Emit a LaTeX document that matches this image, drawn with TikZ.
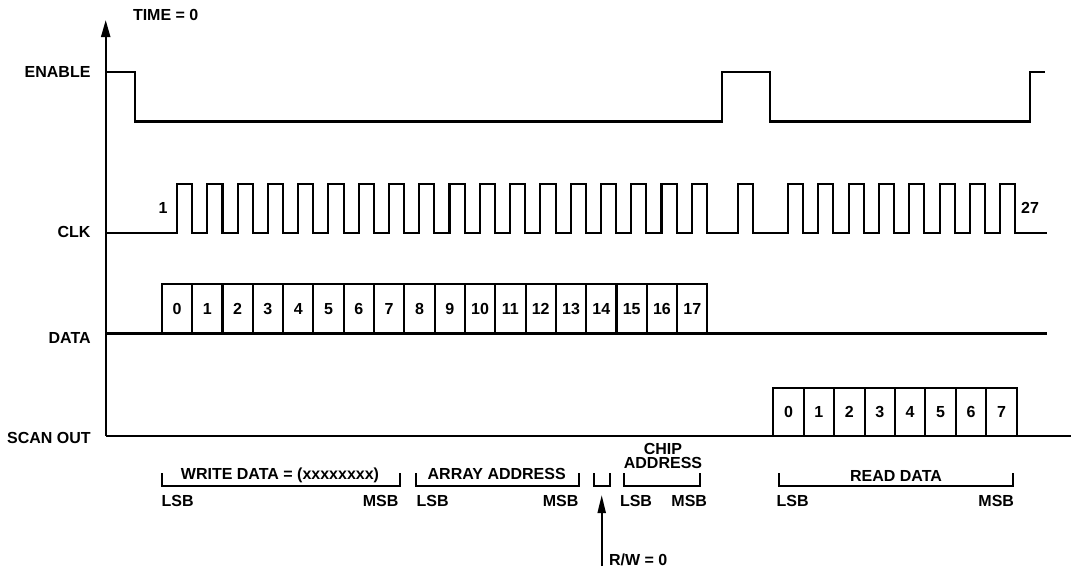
\documentclass[tikz,border=0pt]{standalone}
\usepackage{fontspec}
\setmainfont{Liberation Sans}
\usetikzlibrary{arrows.meta,positioning}

\tikzset{
  sig/.style={line width=2.1pt},
  lbl/.style={inner sep=0pt, outer sep=0pt, text height=11.4pt, text depth=0pt},
  cell/.style={draw, sig, lbl, minimum width=30.3pt, minimum height=50pt},
  scell/.style={cell, minimum width=30.4pt, minimum height=48pt},
  tip/.style={-{Triangle[length=17pt,width=9pt]}},
}

\begin{document}
\begin{tikzpicture}[x=1pt, y=-1pt, font=\fontsize{16}{18}\selectfont\bfseries]
  \useasboundingbox (0,0) rectangle (1073,571);

  % time axis
  \coordinate (top) at (105.7,20);
  \coordinate (org) at (105.7,435.7);
  \draw[sig, tip] (org) -- (top);
  \node[lbl, anchor=west] (time) at (133,14.5) {TIME = 0};

  % signal names
  \node[lbl, anchor=east] (en) at (90.5,71.7) {ENABLE};
  \node[lbl, anchor=east] (clk) at (90.5,232) {CLK};
  \node[lbl, anchor=east] (data) at (90.7,337.5) {DATA};
  \node[lbl, anchor=east] (scan) at (90.7,437.5) {SCAN OUT};

  % enable
  \draw[sig] (105.7,72) -- (135,72) -- (135,121.5) -- (722,121.5) -- (722,72)
    -- (770,72) -- (770,121.5) -- (1030,121.5) -- (1030,72) -- (1045,72);

  % clock, 27 pulses
  \draw[sig] (105.7,233)
    \foreach \n in {0,...,17}{ -- ({177+30.28*\n},233) -- ++(0,-49) -- ++(15.2,0) -- ++(0,49) }
    -- (738.3,233) -- ++(0,-49) -- ++(14.6,0) -- ++(0,49)
    \foreach \n in {0,...,7}{ -- ({787.9+30.33*\n},233) -- ++(0,-49) -- ++(15,0) -- ++(0,49) }
    -- (1047,233);
  \node[lbl] (c1) at (163,208) {1};
  \node[lbl] (c27) at (1030,207.7) {27};

  % data line and cells
  \draw[sig] (105.7,333.5) -- (1047,333.5);
  \foreach \i in {0,...,17}
    \node[cell] (d\i) at ({177+30.31*\i},309) {\i};

  % scan out line and cells
  \draw[sig] (org) -- (1071,435.7);
  \foreach \i in {0,...,7}
    \node[scell] (s\i) at ({788.5+30.42*\i},411.7) {\i};

  % brackets
  \draw[sig] (162.3,473) |- (400,486) -- (400,473);
  \draw[sig] (415.7,473) |- (579,486) -- (579,473);
  \draw[sig] (594.3,473) |- (610,486) -- (610,473);
  \draw[sig] (624.3,473) |- (700,486) -- (700,473);
  \draw[sig] (779,473) |- (1013.3,486) -- (1013.3,473);

  \node[lbl] (wd) at (280,474) {WRITE DATA = (xxxxxxxx)};
  \node[lbl] (aa) at (496.7,474) {ARRAY ADDRESS};
  \node[lbl] (chip) at (663,448.3) {CHIP};
  \node[lbl, below=2.6pt of chip] (addr) {ADDRESS};
  \node[lbl] (rd) at (896,475.5) {READ DATA};

  \node[lbl, anchor=west] (wl) at (161.7,501) {LSB};
  \node[lbl, anchor=east] (wm) at (398.3,501) {MSB};
  \node[lbl, anchor=west] (al) at (416.7,501) {LSB};
  \node[lbl, anchor=east] (am) at (578.3,501) {MSB};
  \node[lbl, anchor=west] (cl) at (620,501) {LSB};
  \node[lbl, anchor=east] (cm) at (707,501) {MSB};
  \node[lbl, anchor=west] (rl) at (776.7,501) {LSB};
  \node[lbl, anchor=east] (rm) at (1014,501) {MSB};

  % read/write bit
  \coordinate (rwtip) at (601.7,495);
  \coordinate (rwend) at (601.7,566);
  \draw[sig, -{Triangle[length=18pt,width=8pt]}] (rwend) -- (rwtip);
  \node[lbl, anchor=west] (rw) at (609,560) {R/W = 0};
\end{tikzpicture}
\end{document}
